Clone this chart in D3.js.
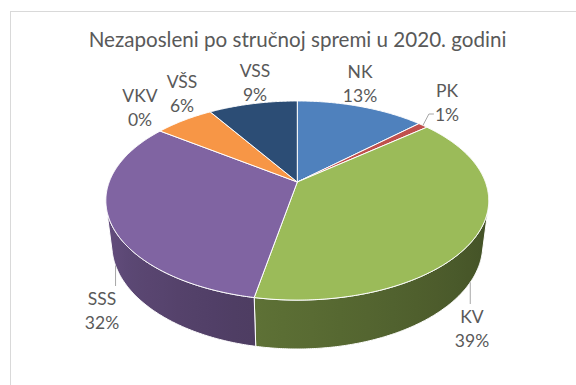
<!DOCTYPE html>
<html>
<head>
<meta charset="utf-8">
<script src="https://cdn.jsdelivr.net/npm/d3@7"></script>
<style>
  html, body { margin: 0; padding: 0; background: #fff; }
  svg { display: block; }
  text { font-family: Lato, "Open Sans", sans-serif; fill: #595959; }
</style>
</head>
<body>
<svg id="chart" width="576" height="385"></svg>
<script>
// Unemployed by qualification level, share of total (%)
const categories = ["NK", "PK", "KV", "SSS", "VKV", "VŠS", "VSS"];
const shares = [13, 1, 39, 32, 0, 6, 9];
const colors = ["#4F81BD", "#C0504D", "#9BBB59", "#8064A2", "#4BACC6", "#F79646", "#2C4D75"];
const title = "Nezaposleni po stručnoj spremi u 2020. godini";

// label block placement: [centre x, first baseline]
const labelLayout = [[360, 78], [447, 97], [472, 323], [102, 305], [140, 102], [182, 88], [255, 77]];
const leaderFor = ["PK", "KV", "SSS"];

const svg = d3.select("#chart");

// chart area frame
svg.append("rect")
  .attr("x", 10.5).attr("y", 11.5)
  .attr("width", 700).attr("height", 500)
  .attr("fill", "#fff").attr("stroke", "#D9D9D9").attr("stroke-width", 1);

svg.append("text")
  .attr("x", 297.5).attr("y", 47)
  .attr("text-anchor", "middle")
  .style("font-size", "20.6px")
  .text(title);

// ---- 3D perspective pie ----
const cx = 297.3, cy = 182;          // projected pie centre
const focal = 869, dist = 4.62;       // camera focal length / distance (unit radius)
const tilt = Math.asin(0.511);
const sT = Math.sin(tilt), cT = Math.cos(tilt);
const depthH = 0.278;                 // pie thickness in radius units

// angle a: clockwise from 12 o'clock (far side); Y: height (0 = top face)
function project(a, r, Y) {
  const X = r * Math.sin(a), Z = -r * Math.cos(a);
  const d = dist - Y * sT - Z * cT;
  const up = Y * cT - Z * sT;
  return [cx + focal * X / d, cy - focal * up / d];
}

function arcPoints(a0, a1, r, Y) {
  const n = Math.max(2, Math.ceil(Math.abs(a1 - a0) / (Math.PI / 360)));
  return d3.range(n + 1).map(i => project(a0 + (a1 - a0) * i / n, r, Y));
}

const pie = d3.pie().sort(null).value(d => d);
const arcs = pie(shares);

// outer wall faces the camera where 1 + dist*cos(tilt)*cos(a) < 0
const visLimit = Math.acos(-1 / (dist * cT));
const visMin = visLimit, visMax = 2 * Math.PI - visLimit;

// wall shading by angle: brighter to the left, darker to the right
function shade(base, a) {
  const k = 0.5 + (1.5 * Math.PI - a) * (180 / Math.PI) * 0.0114;
  return d3.color(base).darker(k).formatHex();
}

const defs = svg.append("defs");
const line = d3.line();
const gWalls = svg.append("g");
const gTops = svg.append("g");

arcs.forEach((arc, i) => {
  const a0 = Math.max(arc.startAngle, visMin), a1 = Math.min(arc.endAngle, visMax);
  if (a1 - a0 <= 1e-4) return;
  const top = arcPoints(a0, a1, 1, 0);
  const bottom = arcPoints(a0, a1, 1, -depthH).reverse();
  const pts = top.concat(bottom);
  const xs = pts.map(p => p[0]);
  const xMin = d3.min(xs), xMax = d3.max(xs);
  const gid = "wall" + i;
  const grad = defs.append("linearGradient").attr("id", gid)
    .attr("gradientUnits", "userSpaceOnUse")
    .attr("x1", xMin).attr("x2", xMax).attr("y1", 0).attr("y2", 0);
  const samples = d3.range(13).map(k => a1 - (a1 - a0) * k / 12)
    .map(a => ({ x: project(a, 1, 0)[0], c: shade(colors[i], a) }))
    .sort((p, q) => p.x - q.x);
  samples.forEach(s => grad.append("stop")
    .attr("offset", Math.min(1, Math.max(0, (s.x - xMin) / (xMax - xMin))))
    .attr("stop-color", s.c));
  gWalls.append("path")
    .attr("d", line(pts) + "Z")
    .attr("fill", `url(#${gid})`)
    .attr("stroke", "#fff").attr("stroke-width", 1).attr("stroke-linejoin", "round");
});

arcs.forEach((arc, i) => {
  if (arc.endAngle - arc.startAngle <= 0) return;
  const pts = [project(0, 0, 0)].concat(arcPoints(arc.startAngle, arc.endAngle, 1, 0));
  gTops.append("path")
    .attr("d", line(pts) + "Z")
    .attr("fill", colors[i])
    .attr("stroke", "#fff").attr("stroke-width", 1).attr("stroke-linejoin", "round");
});

// ---- data labels ----
const lineGap = 23.5;
const gLabels = svg.append("g");
arcs.forEach((arc, i) => {
  const [lx, ly] = labelLayout[i];
  const t = gLabels.append("text").attr("text-anchor", "middle").style("font-size", "17.5px");
  t.append("tspan").attr("x", lx).attr("y", ly).text(categories[i]);
  const pct = t.append("tspan").attr("x", lx).attr("y", ly + lineGap).text(shares[i] + "%");

  if (!leaderFor.includes(categories[i])) return;
  const mid = (arc.startAngle + arc.endAngle) / 2;
  const front = Math.cos(mid) < 0;
  let path;
  if (front) {
    const s = project(mid, 1, -depthH);
    const bb = t.node().getBBox();
    const inside = s[0] >= bb.x && s[0] <= bb.x + bb.width;
    const endY = inside ? bb.y - 2 : ly;
    path = [s, [s[0], endY]];
  } else {
    const s = project(mid, 1, 0);
    const pb = pct.node().getBBox();
    const yMid = pb.y + pb.height / 2;
    path = [s, [pb.x - 6, yMid], [pb.x - 1, yMid]];
  }
  gLabels.append("path")
    .attr("d", line(path))
    .attr("fill", "none").attr("stroke", "#A6A6A6").attr("stroke-width", 1);
});
</script>
</body>
</html>
